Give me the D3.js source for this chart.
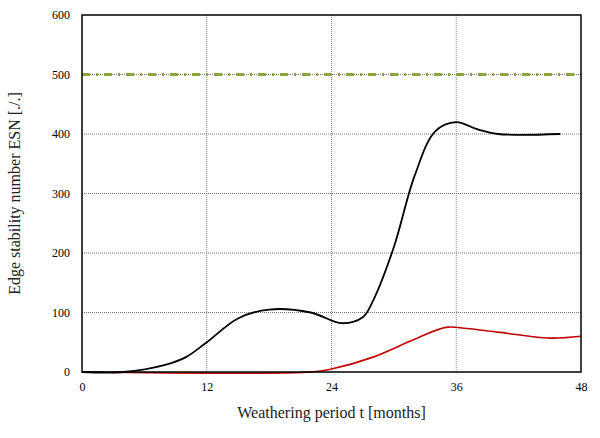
<!DOCTYPE html>
<html><head><meta charset="utf-8">
<script src="https://cdn.jsdelivr.net/npm/d3@7"></script>
<style>body{margin:0;background:#fff}text{font-family:"Liberation Serif","Times New Roman",serif}</style>
</head><body><svg id="chart" width="600" height="438"></svg>
<script>
var blackX = [0, 4, 8, 10, 12, 15, 18, 22, 25, 27, 28, 30, 32, 34, 36, 38, 40, 46];
var blackY = [0, 0, 12, 25, 50, 90, 105, 100, 82, 92, 120, 210, 330, 405, 420, 408, 400, 400];
var redX = [0, 22, 24, 28, 32, 35, 37, 40, 45, 48];
var redY = [0, 0, 5, 25, 55, 75, 73, 67, 57, 60];
var limitX = [0, 48];
var limitY = [500, 500];
var xTicks = [0, 12, 24, 36, 48];
var yTicks = [0, 100, 200, 300, 400, 500, 600];

var svg = d3.select("#chart");
var x = d3.scaleLinear().domain([0, 48]).range([82, 581]);
var y = d3.scaleLinear().domain([0, 600]).range([372, 15]);

// grid
svg.selectAll(".vg").data([12, 24, 36]).enter().append("line")
   .attr("x1", d => x(d)).attr("x2", d => x(d)).attr("y1", y(0)).attr("y2", y(600))
   .attr("stroke", "#888").attr("stroke-width", 1).attr("stroke-dasharray", "1,1");
svg.selectAll(".hg").data([100, 200, 300, 400, 500]).enter().append("line")
   .attr("x1", x(0)).attr("x2", x(48)).attr("y1", d => y(d)).attr("y2", d => y(d))
   .attr("stroke", "#777").attr("stroke-width", 1).attr("stroke-dasharray", "1,1");

var line = d3.line().x(d => x(d[0])).y(d => y(d[1]));
var smooth = d3.line().x(d => x(d[0])).y(d => y(d[1])).curve(d3.curveCatmullRom.alpha(0.5));

svg.append("path").datum(d3.zip(limitX, limitY)).attr("d", line)
   .attr("fill", "none").attr("stroke", "#8aa83a").attr("stroke-width", 3)
   .attr("stroke-dasharray", "8,6,2,6");
svg.append("path").datum(d3.zip(redX, redY)).attr("d", smooth)
   .attr("fill", "none").attr("stroke", "#c00000").attr("stroke-width", 1.6);
svg.append("path").datum(d3.zip(blackX, blackY)).attr("d", smooth)
   .attr("fill", "none").attr("stroke", "#000").attr("stroke-width", 1.8);

// frame
svg.append("rect").attr("x", x(0)).attr("y", y(600)).attr("width", x(48) - x(0)).attr("height", y(0) - y(600))
   .attr("fill", "none").attr("stroke", "#000").attr("stroke-width", 1.5);

svg.append("g").attr("transform", "translate(0," + y(0) + ")")
   .call(d3.axisBottom(x).tickValues(xTicks).tickSize(0).tickPadding(10))
   .call(g => g.select(".domain").remove())
   .selectAll("text").attr("font-size", 12).attr("font-family", "Liberation Serif");
svg.append("g").attr("transform", "translate(" + x(0) + ",0)")
   .call(d3.axisLeft(y).tickValues(yTicks).tickSize(0).tickPadding(12))
   .call(g => g.select(".domain").remove())
   .selectAll("text").attr("font-size", 12).attr("font-family", "Liberation Serif");

svg.append("text").attr("x", x(24)).attr("y", 418).attr("text-anchor", "middle")
   .attr("font-size", 16).attr("fill", "#222").text("Weathering period t [months]");
svg.append("text").attr("transform", "translate(20," + y(300) + ") rotate(-90)")
   .attr("text-anchor", "middle").attr("font-size", 16).attr("fill", "#222").text("Edge stability number ESN [./.]");
</script></body></html>
